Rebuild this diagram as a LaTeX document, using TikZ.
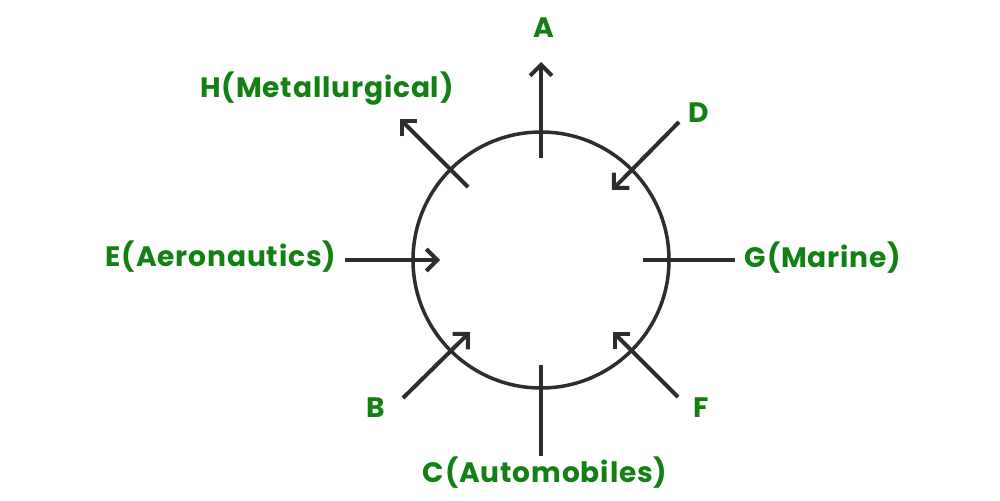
\documentclass[tikz,border=0pt]{standalone}
\usepackage{fontspec}
\setmainfont{Poppins}[LetterSpace=3]
\usetikzlibrary{arrows.meta}
\definecolor{lblgreen}{RGB}{18,128,18}
\definecolor{linegray}{RGB}{45,45,45}
\tikzset{
  lbl/.style={text=lblgreen, font=\fontsize{16}{18}\selectfont\bfseries, inner sep=0pt},
  conn/.style={draw=linegray, line width=0.08cm},
  arr/.style={conn, -{Straight Barb[length=6.2pt, width=12.4pt, line width=0.08cm]}},
}
\begin{document}
\begin{tikzpicture}[x=0.02cm, y=-0.02cm]
\useasboundingbox (0,0) rectangle (1000,500);
\node[draw=linegray, line width=0.07cm, circle, minimum size=2*128*0.02cm, inner sep=0pt] (c) at (541,260) {};
% labels
\node[lbl] (lA) at (544,28) {A};
\node[lbl] (lD) at (699,113) {D};
\node[lbl] (lH) at (327,89) {H(Metallurgical)};
\node[lbl] (lE) at (221,257) {E(Aeronautics)};
\node[lbl] (lG) at (823,258) {G(Marine)};
\node[lbl] (lB) at (376,408) {B};
\node[lbl] (lF) at (701,408) {F};
\node[lbl] (lC) at (545,473) {C(Automobiles)};
% connector ends
\coordinate (a1) at (541,158); \coordinate (a2) at (541,62);
\coordinate (d1) at (679,122); \coordinate (d2) at (612,190);
\coordinate (h1) at (468,187); \coordinate (h2) at (400,119);
\coordinate (e1) at (345,260); \coordinate (e2) at (440,260);
\coordinate (g1) at (643,260); \coordinate (g2) at (735,260);
\coordinate (b1) at (403,398); \coordinate (b2) at (470,332);
\coordinate (f1) at (678,397); \coordinate (f2) at (613,332);
\coordinate (c1) at (541,365); \coordinate (c2) at (541,456);
\draw[arr] (a1) -- (a2);
\draw[arr] (d1) -- (d2);
\draw[arr] (h1) -- (h2);
\draw[arr] (e1) -- (e2);
\draw[conn] (g1) -- (g2);
\draw[arr] (b1) -- (b2);
\draw[arr] (f1) -- (f2);
\draw[conn] (c1) -- (c2);
\end{tikzpicture}
\end{document}
